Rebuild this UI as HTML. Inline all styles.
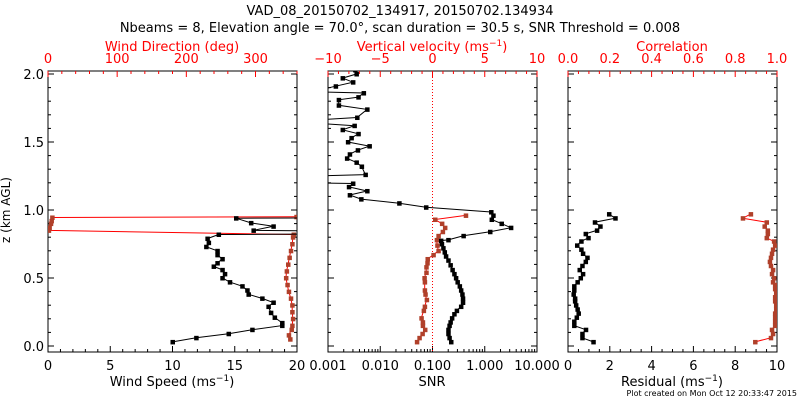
<!DOCTYPE html>
<html><head><meta charset="utf-8"><style>
html,body{margin:0;padding:0;background:#fff;}
svg{display:block;font-family:"DejaVu Sans","Liberation Sans",sans-serif;}
</style></head><body>
<svg id="c" width="800" height="400" viewBox="0 0 800 400">
<defs>
<clipPath id="cp1"><rect x="48" y="71" width="249" height="281"/></clipPath>
<clipPath id="cp2"><rect x="328" y="71" width="209" height="281"/></clipPath>
<clipPath id="cp3"><rect x="568" y="71" width="209" height="281"/></clipPath>
</defs>
<text x="400" y="15" font-size="13" text-anchor="middle">VAD_08_20150702_134917, 20150702.134934</text>
<text x="400" y="32" font-size="13" text-anchor="middle">Nbeams = 8, Elevation angle = 70.0°, scan duration = 30.5 s, SNR Threshold = 0.008</text>
<text x="10" y="210" font-size="12" text-anchor="middle" transform="rotate(-90 10 210)">z (km AGL)</text>
<text x="797" y="396" font-size="8" text-anchor="end">Plot created on Mon Oct 12 20:33:47 2015</text>
<g id="g"></g>
</svg>
<script>
// ---- data ----
const wsZ=[0.03,0.06,0.09,0.12,0.15,0.17,0.21,0.245,0.29,0.32,0.35,0.38,0.41,0.44,0.47,0.50,0.53,0.56,0.585,0.61,0.64,0.67,0.70,0.73,0.76,0.79,0.82,0.83,0.85,0.88,0.905,0.94,0.945];
const wsVal=[10.0,11.9,14.5,16.4,18.8,18.8,18.2,17.9,17.7,18.1,17.2,16.1,16.0,15.6,14.6,14.0,14.2,14.0,13.3,13.6,14.0,13.6,13.6,12.7,12.9,12.8,13.7,40,16.5,18.1,16.3,15.1,40];
const wdZ=[0.05,0.08,0.12,0.15,0.2,0.25,0.3,0.35,0.4,0.45,0.5,0.55,0.6,0.65,0.7,0.75,0.8,0.82,0.85,0.87,0.9,0.92,0.945,0.95];
const wdVal=[350,348,352,353,354,353,353,351,348,346,344,345,347,349,351,353,354,355,1,2,4,5,6,359];
const snrZ=[0.03,0.06,0.09,0.12,0.15,0.175,0.205,0.235,0.26,0.29,0.32,0.35,0.38,0.41,0.44,0.47,0.50,0.53,0.56,0.595,0.63,0.66,0.69,0.72,0.75,0.775,0.78,0.81,0.84,0.87,0.90,0.93,0.96,0.985,1.02,1.05,1.08,1.11,1.14,1.17,1.195,1.20,1.25,1.26,1.32,1.35,1.38,1.41,1.44,1.47,1.50,1.53,1.56,1.59,1.62,1.64,1.66,1.68,1.74,1.77,1.81,1.83,1.86,1.87,1.91,1.94,1.97,2.0,2.03];
const snrVal=[0.226,0.21,0.20,0.20,0.21,0.22,0.235,0.26,0.29,0.35,0.38,0.38,0.37,0.35,0.33,0.30,0.28,0.26,0.24,0.22,0.20,0.18,0.17,0.16,0.15,0.145,0.2,0.39,1.26,3.16,2.09,1.35,1.45,1.32,0.075,0.023,0.0043,0.0026,0.0056,0.0025,0.003,0.0005,0.0005,0.0052,0.0044,0.0035,0.0023,0.0026,0.0037,0.0062,0.0024,0.0028,0.0038,0.0019,0.0032,0.0005,0.0005,0.0036,0.0056,0.0016,0.0016,0.0038,0.0048,0.0005,0.0014,0.003,0.0019,0.0035,0.0033];
const vvZ=[0.03,0.06,0.09,0.12,0.15,0.175,0.205,0.26,0.29,0.34,0.38,0.41,0.47,0.50,0.54,0.58,0.61,0.64,0.67,0.70,0.74,0.78,0.81,0.84,0.87,0.90,0.93,0.96];
const vvVal=[-1.5,-1.26,-0.97,-0.72,-0.94,-0.94,-1.07,-0.85,-0.75,-0.56,-0.69,-0.75,-0.75,-0.78,-0.6,-0.6,-0.5,-0.48,0.08,0.56,0.45,0.4,0.56,0.97,1.19,0.9,0.24,3.18];
const resZ=[0.03,0.06,0.09,0.12,0.15,0.18,0.21,0.24,0.27,0.30,0.33,0.35,0.38,0.41,0.44,0.47,0.50,0.53,0.56,0.59,0.62,0.65,0.68,0.71,0.74,0.77,0.795,0.825,0.85,0.88,0.91,0.94,0.97];
const resVal=[1.21,0.68,0.68,0.85,0.29,0.29,0.41,0.5,0.45,0.38,0.33,0.33,0.26,0.29,0.29,0.45,0.6,0.71,0.55,0.68,0.84,0.92,0.71,0.63,0.43,0.63,0.97,0.84,1.38,1.54,1.28,2.26,1.96];
const corZ=[0.03,0.06,0.09,0.12,0.15,0.18,0.21,0.24,0.27,0.30,0.33,0.36,0.39,0.42,0.45,0.47,0.50,0.53,0.56,0.59,0.62,0.65,0.68,0.71,0.74,0.77,0.795,0.825,0.85,0.88,0.91,0.94,0.97];
const corVal=[0.895,0.97,0.98,0.975,0.99,0.99,0.99,0.99,0.995,0.995,0.99,0.99,0.995,0.99,0.99,0.98,0.985,0.975,0.98,0.97,0.965,0.97,0.975,0.98,0.99,0.985,0.95,0.955,0.955,0.94,0.95,0.836,0.874];
const wsTicks=[0,5,10,15,20], wdTicks=[0,100,200,300], snrTicks=["0.001","0.010","0.100","1.000","10.000"], vvTicks=[-10,-5,0,5,10], resTicks=[0,2,4,6,8,10], corTicks=["0.0","0.2","0.4","0.6","0.8","1.0"], zTicks=["0.0","0.5","1.0","1.5","2.0"];

// ---- drawing ----
const NS="http://www.w3.org/2000/svg", G=document.getElementById('g');
function el(t,a,p){const e=document.createElementNS(NS,t);for(const k in a)e.setAttribute(k,a[k]);(p||G).appendChild(e);return e;}
const TOP=71,BOT=352;
const Y=z=>346-136*z;
const P1={l:48,r:297},P2={l:328,r:537},P3={l:568,r:777};
const xWS=v=>P1.l+v/20*249, xWD=v=>P1.l+v/360*249;
const xSNR=v=>P2.l+(Math.log10(v)+3)/4*209, xVV=v=>432.5+v*10.45;
const xRES=v=>P3.l+v/10*209, xCOR=v=>P3.l+v*209;
const RED="#ff0000", BR="#b0402a";

[P1,P2,P3].forEach((p,i)=>{const r=el('rect',{x:p.l,y:TOP,width:p.r-p.l,height:BOT-TOP,fill:"none",stroke:"#000","stroke-width":1});


for(let z=0;z<=2.001;z+=0.1){const maj=Math.abs(z*2-Math.round(z*2))<1e-6;const L=maj?6:3;
el('line',{x1:p.l,y1:Y(z),x2:p.l+L,y2:Y(z),stroke:"#000"});el('line',{x1:p.r,y1:Y(z),x2:p.r-L,y2:Y(z),stroke:"#000"});}
});
zTicks.forEach(t=>{const e=el('text',{x:44,y:Y(+t)+5,"font-size":13,"text-anchor":"end"});e.textContent=t;

});

function bt(x,maj,top,col){const L=maj?6:3;if(top)el('line',{x1:x,y1:TOP,x2:x,y2:TOP+L,stroke:col});else el('line',{x1:x,y1:BOT,x2:x,y2:BOT-L,stroke:col});}
function lab(x,y,s,col,name){const e=el('text',{x:x,y:y,"font-size":13,"text-anchor":"middle",fill:col});e.textContent=s;

return e;}
for(let v=0;v<=20;v++)bt(xWS(v),v%5==0,false,"#000");
for(let v=0;v<=360;v+=20)bt(xWD(v),v%100==0,true,RED);
wsTicks.forEach(v=>lab(xWS(v),370,String(v),"#000",'x-tick-label-wind-speed'));
wdTicks.forEach(v=>lab(xWD(v),63,String(v),RED,'x-tick-label-wind-direction'));
for(let d=-3;d<1;d++)for(let m=1;m<10;m++)bt(xSNR(m*Math.pow(10,d)),m==1,false,"#000");
bt(P2.r,true,false,"#000");
for(let v=-10;v<=10;v++)bt(xVV(v),v%5==0,true,RED);
snrTicks.forEach(t=>lab(xSNR(+t),370,t,"#000",'x-tick-label-snr'));
vvTicks.forEach(v=>lab(xVV(v),63,v<0?"\u2212"+(-v):String(v),RED,'x-tick-label-vertical-velocity'));
el('line',{x1:xVV(0),y1:TOP,x2:xVV(0),y2:BOT,stroke:RED,"stroke-dasharray":"1,2"});
for(let v=0;v<=10.001;v+=0.5)bt(xRES(v),Math.abs(v/2-Math.round(v/2))<1e-6,false,"#000");
for(let v=0;v<=1.001;v+=0.05)bt(xCOR(v),Math.abs(v*5-Math.round(v*5))<1e-6,true,RED);
resTicks.forEach(v=>lab(xRES(v),370,String(v),"#000",'x-tick-label-residual'));
corTicks.forEach(t=>lab(xCOR(+t),63,t,RED,'x-tick-label-correlation'));
function ttl(x,y,html,col,name){const e=el('text',{x:x,y:y,"font-size":13,"text-anchor":"middle",fill:col});e.innerHTML=html;

}
ttl(172,386,'Wind Speed (ms<tspan dy="-5" font-size="9">−1</tspan><tspan dy="5">)</tspan>',"#000",'x-axis-title-wind-speed');
ttl(172,51,'Wind Direction (deg)',RED,'x-axis-title-wind-direction');
ttl(432,386,'SNR',"#000",'x-axis-title-snr');
ttl(432,51,'Vertical velocity (ms<tspan dy="-5" font-size="9">−1</tspan><tspan dy="5">)</tspan>',RED,'x-axis-title-vertical-velocity');
ttl(672,386,'Residual (ms<tspan dy="-5" font-size="9">−1</tspan><tspan dy="5">)</tspan>',"#000",'x-axis-title-residual');
ttl(672,51,'Correlation',RED,'x-axis-title-correlation');

function series(zs,vs,fx,clip,lc,mc,name){const g=el('g',{"clip-path":"url(#"+clip+")"});


const pts=zs.map((z,i)=>fx(vs[i]).toFixed(1)+","+Y(z).toFixed(1)).join(" ");
el('polyline',{points:pts,fill:"none",stroke:lc,"stroke-width":1},g);
zs.forEach((z,i)=>{const c=el('rect',{x:fx(vs[i])-2,y:Y(z)-2,width:4.5,height:4.5,fill:mc},g);

});}
series(wdZ,wdVal,xWD,"cp1",RED,BR,'wind-direction-series');
series(wsZ,wsVal,xWS,"cp1","#000","#000",'wind-speed-series');
series(vvZ,vvVal,xVV,"cp2",RED,BR,'vertical-velocity-series');
series(snrZ,snrVal,xSNR,"cp2","#000","#000",'snr-series');
series(corZ,corVal,xCOR,"cp3",RED,BR,'correlation-series');
series(resZ,resVal,xRES,"cp3","#000","#000",'residual-series');
</script>
</body></html>
